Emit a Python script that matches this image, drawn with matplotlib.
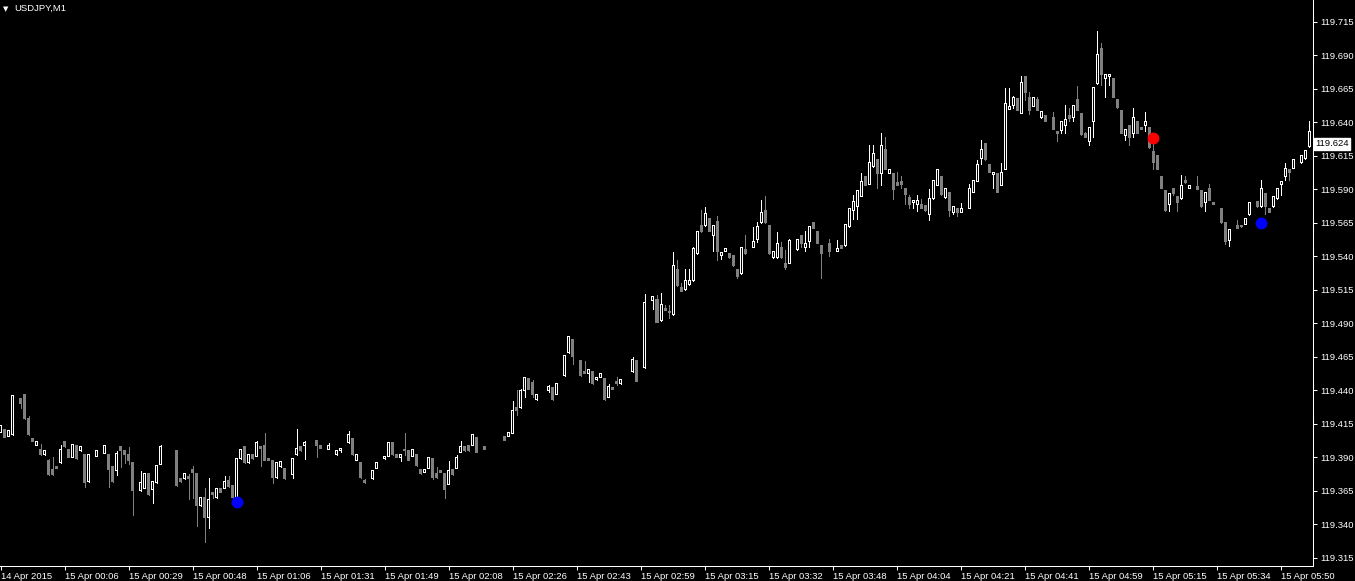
#!/usr/bin/env python3
# -*- coding: utf-8 -*-

import matplotlib
matplotlib.use("Agg")
import matplotlib.pyplot as plt
import matplotlib.transforms as mtransforms
import numpy as np

plt.rcParams['font.family'] = ['Liberation Sans', 'DejaVu Sans']

# USDJPY M1 bars, prices in points above 119.000 (1 point = 0.001)
base = 119.0

opens = [
    409, 411, 406, 407, 435, 434, 437, 419, 404, 399, 396, 392, 388, 381, 383, 386,
    402, 396, 390, 399, 395, 392, 372, 392, 391, 395, 393, 392, 383, 380, 398, 395,
    392, 386, 366, 365, 367, 378, 366, 371, 385, 398, 398, 398, 395, 374, 374, 376,
    381, 378, 354, 360, 345, 364, 360, 367, 367, 373, 369, 360, 389, 398, 386, 392,
    391, 398, 399, 389, 388, 375, 383, 382, 375, 377, 392, 398, 399, 401, 401, 403,
    399, 397, 396, 399, 392, 395, 399, 401, 404, 388, 386, 373, 372, 374, 382, 388,
    389, 391, 401, 392, 390, 396, 395, 391, 392, 381, 379, 382, 389, 378, 380, 378,
    370, 381, 382, 394, 398, 399, 399, 405, 396, 398, 398, 400, 402, 404, 406, 406,
    408, 427, 427, 440, 449, 446, 433, 438, 439, 440, 442, 437, 448, 451, 468, 478,
    463, 462, 454, 453, 454, 448, 450, 449, 435, 442, 447, 445, 450, 452, 454, 462,
    457, 457, 507, 507, 508, 492, 501, 499, 497, 530, 517, 515, 519, 522, 542, 563,
    563, 568, 556, 566, 541, 544, 542, 541, 530, 527, 545, 545, 547, 553, 565, 574,
    563, 539, 539, 547, 535, 535, 548, 545, 556, 547, 551, 565, 559, 548, 545, 550,
    544, 544, 548, 548, 562, 574, 577, 585, 600, 594, 607, 612, 602, 620, 602, 602,
    595, 596, 591, 584, 580, 579, 579, 578, 571, 583, 593, 600, 584, 588, 573, 576,
    573, 576, 576, 588, 596, 613, 624, 609, 601, 602, 593, 605, 650, 653, 658, 647,
    674, 659, 652, 657, 644, 645, 643, 644, 633, 634, 638, 645, 644, 657, 647, 632,
    626, 641, 669, 695, 673, 674, 673, 657, 649, 630, 638, 632, 641, 636, 638, 636,
    618, 615, 600, 589, 579, 591, 585, 583, 597, 591, 592, 592, 589, 580, 591, 580,
    578, 576, 565, 552, 561, 563, 563, 564, 571, 580, 581, 577, 587, 576, 577, 583,
    594, 600, 605, 606, 611, 610, 613, 622,
]

highs = [
    414, 411, 410, 436, 435, 434, 437, 421, 404, 402, 400, 395, 389, 390, 383, 399,
    402, 396, 400, 399, 398, 392, 392, 392, 395, 395, 399, 392, 383, 395, 398, 395,
    398, 386, 366, 380, 378, 378, 372, 384, 399, 398, 398, 398, 395, 374, 378, 378,
    384, 378, 360, 367, 375, 364, 367, 367, 376, 376, 369, 389, 396, 398, 392, 392,
    402, 398, 408, 389, 388, 386, 387, 382, 375, 389, 411, 398, 402, 401, 401, 403,
    399, 397, 401, 399, 395, 397, 399, 410, 404, 392, 386, 374, 372, 380, 386, 388,
    391, 401, 401, 392, 392, 408, 395, 396, 392, 381, 381, 390, 389, 383, 380, 378,
    387, 381, 392, 402, 398, 399, 407, 405, 396, 398, 398, 400, 402, 404, 406, 409,
    432, 440, 441, 450, 449, 448, 437, 438, 439, 444, 442, 445, 448, 466, 481, 478,
    463, 462, 462, 456, 454, 450, 453, 449, 445, 442, 450, 448, 450, 452, 465, 462,
    457, 512, 507, 510, 511, 513, 504, 504, 543, 537, 520, 531, 531, 547, 559, 575,
    577, 568, 563, 570, 543, 546, 542, 541, 530, 547, 556, 545, 562, 566, 582, 585,
    563, 544, 558, 551, 545, 553, 548, 553, 556, 559, 562, 565, 559, 548, 545, 553,
    544, 552, 548, 564, 576, 586, 589, 602, 600, 623, 623, 612, 632, 629, 605, 602,
    603, 600, 591, 586, 582, 586, 583, 578, 590, 597, 605, 600, 591, 588, 577, 576,
    580, 576, 594, 597, 612, 627, 624, 609, 603, 602, 610, 666, 666, 660, 658, 675,
    675, 663, 659, 659, 648, 645, 643, 648, 633, 641, 653, 651, 653, 667, 647, 633,
    636, 666, 708, 699, 676, 676, 673, 657, 649, 635, 638, 651, 641, 636, 648, 636,
    627, 615, 600, 589, 587, 591, 585, 601, 600, 593, 592, 600, 589, 588, 594, 580,
    578, 576, 565, 560, 561, 567, 563, 568, 580, 580, 581, 597, 587, 576, 585, 591,
    596, 610, 605, 612, 611, 615, 619, 641,
]

lows = [
    409, 405, 406, 407, 435, 427, 419, 407, 402, 399, 392, 392, 377, 377, 382, 386,
    398, 390, 390, 389, 395, 368, 372, 392, 391, 395, 393, 368, 372, 377, 383, 386,
    385, 347, 366, 365, 367, 362, 356, 371, 385, 398, 398, 398, 369, 372, 374, 359,
    360, 339, 354, 327, 337, 360, 360, 364, 367, 368, 360, 360, 389, 386, 386, 389,
    391, 384, 388, 388, 371, 375, 383, 374, 375, 375, 392, 395, 389, 401, 401, 390,
    397, 397, 396, 399, 392, 394, 399, 401, 392, 388, 375, 371, 372, 374, 382, 388,
    389, 391, 392, 390, 387, 392, 388, 391, 384, 378, 379, 382, 374, 375, 379, 360,
    370, 377, 382, 394, 395, 395, 399, 394, 396, 396, 398, 400, 402, 404, 403, 406,
    408, 422, 427, 435, 441, 435, 433, 438, 439, 439, 433, 437, 448, 451, 468, 460,
    463, 451, 453, 446, 445, 448, 450, 433, 435, 441, 444, 445, 450, 452, 454, 447,
    457, 457, 507, 501, 491, 492, 500, 494, 496, 518, 514, 515, 519, 522, 542, 558,
    563, 559, 544, 537, 538, 544, 539, 533, 524, 527, 542, 545, 547, 551, 565, 565,
    542, 539, 539, 539, 531, 535, 548, 545, 547, 544, 547, 561, 550, 524, 545, 540,
    544, 544, 546, 548, 562, 568, 568, 585, 593, 594, 607, 591, 593, 605, 602, 583,
    593, 591, 579, 576, 576, 574, 576, 574, 567, 583, 593, 586, 584, 570, 572, 570,
    573, 576, 576, 588, 596, 609, 612, 603, 591, 588, 593, 605, 650, 651, 649, 647,
    657, 646, 652, 649, 643, 641, 643, 635, 626, 632, 632, 641, 641, 649, 631, 629,
    623, 629, 669, 668, 659, 668, 659, 651, 632, 627, 623, 629, 632, 635, 634, 621,
    605, 605, 591, 574, 574, 586, 574, 583, 595, 591, 592, 590, 577, 574, 582, 579,
    578, 565, 549, 548, 561, 561, 562, 564, 571, 580, 577, 577, 572, 573, 577, 583,
    586, 597, 597, 606, 611, 610, 613, 622,
]

closes = [
    414, 405, 410, 436, 435, 430, 419, 407, 402, 402, 392, 395, 377, 377, 382, 396,
    398, 390, 400, 389, 398, 371, 392, 392, 395, 395, 399, 381, 372, 393, 395, 392,
    388, 365, 366, 371, 378, 362, 372, 384, 398, 398, 398, 398, 369, 372, 378, 374,
    379, 354, 360, 345, 359, 362, 367, 364, 372, 368, 360, 389, 396, 386, 392, 389,
    401, 397, 388, 388, 375, 386, 387, 374, 375, 389, 397, 395, 401, 401, 401, 399,
    397, 397, 399, 399, 395, 397, 399, 407, 392, 392, 375, 371, 372, 380, 386, 388,
    391, 401, 392, 390, 392, 395, 388, 396, 384, 378, 381, 390, 375, 375, 379, 366,
    380, 377, 390, 398, 395, 395, 407, 394, 396, 396, 398, 400, 402, 404, 403, 409,
    425, 425, 440, 450, 441, 437, 437, 438, 439, 443, 433, 445, 448, 466, 480, 465,
    463, 451, 453, 456, 445, 450, 453, 433, 443, 441, 445, 448, 450, 452, 463, 447,
    457, 506, 507, 510, 491, 504, 500, 498, 533, 518, 514, 522, 522, 546, 559, 559,
    572, 559, 563, 544, 543, 546, 539, 533, 525, 547, 542, 545, 551, 562, 573, 565,
    542, 544, 550, 539, 532, 552, 548, 553, 550, 550, 562, 561, 550, 542, 545, 544,
    544, 546, 546, 564, 576, 581, 589, 596, 593, 610, 617, 602, 623, 605, 605, 590,
    593, 594, 586, 579, 582, 582, 576, 574, 583, 597, 605, 586, 591, 574, 577, 573,
    576, 576, 591, 597, 609, 620, 612, 603, 603, 588, 603, 654, 652, 659, 649, 670,
    662, 649, 659, 649, 648, 641, 643, 635, 632, 641, 642, 643, 653, 649, 631, 629,
    636, 666, 691, 676, 676, 676, 659, 651, 632, 635, 629, 644, 632, 635, 641, 621,
    610, 605, 591, 574, 587, 587, 580, 593, 595, 593, 592, 590, 577, 588, 582, 579,
    578, 565, 551, 560, 561, 561, 562, 568, 580, 580, 577, 591, 577, 573, 585, 591,
    596, 606, 603, 612, 611, 615, 619, 633,
]

# indicator dots (bar index, price in points)
up_bars = [59, 315]
up_vals = [356.5, 564.8]
down_bars = [288]
down_vals = [628.2]

last_price = 119.624

time_labels = ["14 Apr 2015", "15 Apr 00:06", "15 Apr 00:29", "15 Apr 00:48",
               "15 Apr 01:06", "15 Apr 01:31", "15 Apr 01:49", "15 Apr 02:08",
               "15 Apr 02:26", "15 Apr 02:43", "15 Apr 02:59", "15 Apr 03:15",
               "15 Apr 03:32", "15 Apr 03:48", "15 Apr 04:04", "15 Apr 04:21",
               "15 Apr 04:41", "15 Apr 04:59", "15 Apr 05:15", "15 Apr 05:34",
               "15 Apr 05:50"]

GRAY = "#808080"

o = base + np.array(opens) / 1000.0
h = base + np.array(highs) / 1000.0
l = base + np.array(lows) / 1000.0
c = base + np.array(closes) / 1000.0
x = np.arange(len(o))

bull = c > o
bear = c < o
doji = c == o

fig = plt.figure(figsize=(13.55, 5.81), dpi=100, facecolor="black")
ax = fig.add_axes([0, 15 / 581, 1312.5 / 1355, 566 / 581])
ax.set_facecolor("black")

ylo, yhi = 119.309, 119.7314
px = (yhi - ylo) / 566.0      # one screen pixel in price units

# wicks
ax.vlines(x[bull], l[bull], h[bull], color="white", lw=0.72, zorder=1, antialiased=False)
ax.vlines(x[bear], l[bear], h[bear], color=GRAY, lw=0.72, zorder=1, antialiased=False)
# doji bars use the (black) line-chart colour
ax.vlines(x[doji], l[doji], h[doji], color="black", lw=0.72, zorder=1, antialiased=False)

# bodies: bull = white outline with black inside, bear = filled gray
ax.bar(x[bull], (c - o)[bull] + px, bottom=o[bull] - px / 2, width=0.75,
       color="white", linewidth=0, zorder=2, antialiased=False)
hollow = bull & ((c - o) > 1.5 * px)
ax.bar(x[hollow], (c - o)[hollow] - px, bottom=o[hollow] + px / 2, width=0.25,
       color="black", linewidth=0, zorder=3, antialiased=False)
ax.bar(x[bear], (o - c)[bear] + px, bottom=c[bear] - px / 2, width=0.75,
       color=GRAY, linewidth=0, zorder=2, antialiased=False)

ax.plot(up_bars, base + np.array(up_vals) / 1000.0, "o", color="#0000ff",
        ms=7.5, mec="#0000ff", zorder=4)
ax.plot(down_bars, base + np.array(down_vals) / 1000.0, "o", color="#ff0000",
        ms=7.5, mec="#ff0000", zorder=4)

ax.set_xlim(-0.175, 327.8)
ax.set_ylim(ylo, yhi)

for s in ["top", "left"]:
    ax.spines[s].set_visible(False)
for s in ["right", "bottom"]:
    ax.spines[s].set_color("white")
    ax.spines[s].set_linewidth(0.75)

yt = np.round(np.arange(119.315, 119.7151, 0.025), 3)
ax.yaxis.tick_right()
ax.set_yticks(yt)
ax.set_yticklabels(["%.3f" % v for v in yt])
ax.tick_params(axis="y", colors="white", length=3, width=0.75, pad=2.5, labelsize=6.8)

ax.set_xticks(np.arange(0, 16 * len(time_labels), 16))
labs = ax.set_xticklabels(time_labels, ha="left")
shift = mtransforms.ScaledTranslation(2 / 100, 0, fig.dpi_scale_trans)
for lab in labs:
    lab.set_transform(lab.get_transform() + shift)
ax.tick_params(axis="x", colors="white", length=3, width=0.75, pad=1, labelsize=6.8)

# current price box on the price scale
trans = mtransforms.blended_transform_factory(ax.transAxes, ax.transData)
trans = trans + mtransforms.ScaledTranslation(3 / 100, 0, fig.dpi_scale_trans)
ax.text(1.0, last_price, "%.3f" % last_price, transform=trans, color="black",
        fontsize=6.8, va="center", ha="left", zorder=5, clip_on=False,
        bbox=dict(boxstyle="square,pad=0.12", facecolor="white", edgecolor="white"))

fig.text(3 / 1355, 1 - 9 / 581, "\u25bc", color="white", fontsize=5,
         family="DejaVu Sans", va="center", ha="left")
fig.text(14 / 1355, 1 - 8.5 / 581, "USDJPY,M1", color="white", fontsize=6.8,
         va="center", ha="left")

fig.savefig("out.png", dpi=100, facecolor="black")
